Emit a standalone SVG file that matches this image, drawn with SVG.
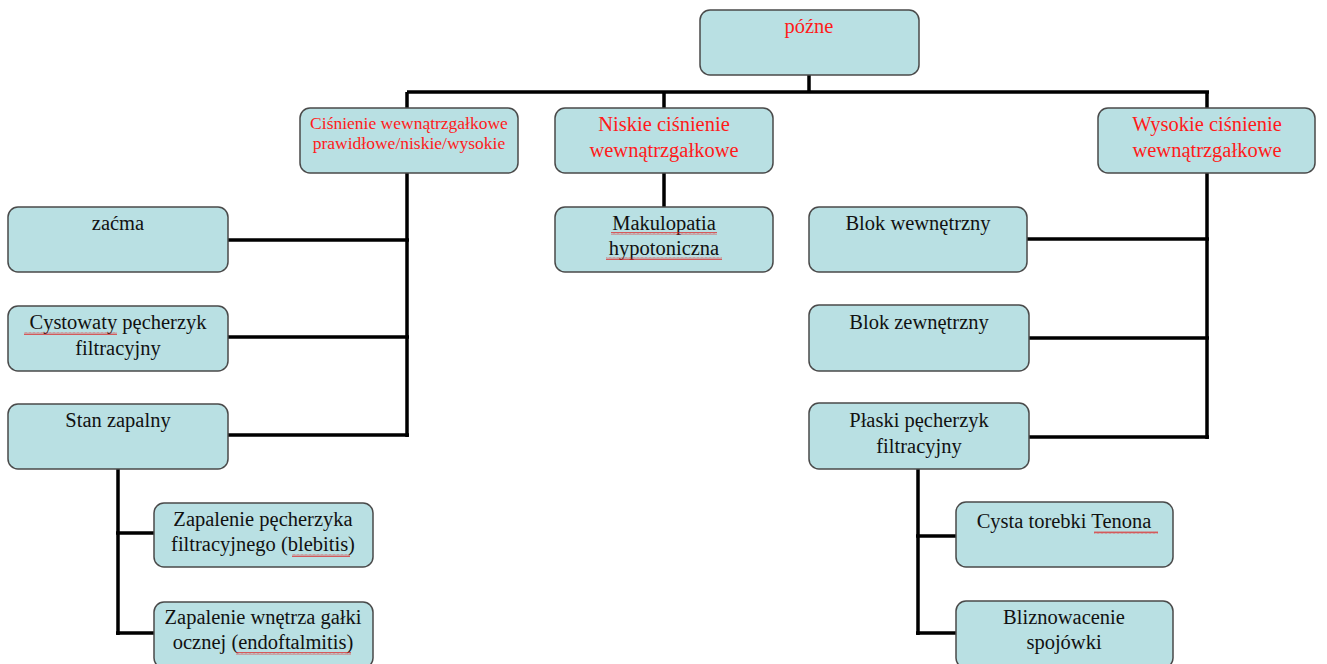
<svg xmlns="http://www.w3.org/2000/svg" width="1327" height="664" viewBox="0 0 1327 664">
<defs>
<pattern id="wave" width="4" height="3" patternUnits="userSpaceOnUse">
<path d="M0 2.5 L1 0.5 L2 2.5 L3 0.5 L4 2.5" fill="none" stroke="#e02020" stroke-width="0.7"/>
</pattern>
</defs>
<style>
.box{fill:#b9e0e3;stroke:#4a4a4a;stroke-width:1.5}
.t{font-family:'Liberation Serif','DejaVu Serif',serif;font-size:20.5px;fill:#111;text-anchor:middle}
.r{fill:#ff1a1a}
.s{font-size:17.5px}
.c{fill:none;stroke:#000;stroke-width:3.5}
.sq{fill:url(#wave)}
</style>
<rect width="1327" height="664" fill="#fff"/>
<g id="connectors">
<path class="c" d="M809 75V92M407 92H1209M407 92V108M664 92V108M1207 92V108"/>
<path class="c" d="M407 173V437M227 240H409M227 337H409M227 435H409"/>
<path class="c" d="M664 173V207"/>
<path class="c" d="M1207 173V439M1027 239H1209M1029 338H1209M1029 437H1209"/>
<path class="c" d="M118 469V635M116 533H154M116 633H154"/>
<path class="c" d="M918 469V635M916 536H956M916 633H956"/>
</g>
<g font-family="Liberation Serif, DejaVu Serif, serif">
<g id="n-pozne"><rect class="box" x="700" y="10" width="219" height="65" rx="10"/><text class="t r" x="809" y="33">późne</text></g>
<g id="n-cisnienie"><rect class="box" x="300" y="108" width="218" height="65" rx="10"/><text class="t r s" x="409" y="129">Ciśnienie wewnątrzgałkowe</text><text class="t r s" x="409" y="149">prawidłowe/niskie/wysokie</text></g>
<g id="n-niskie"><rect class="box" x="555" y="108" width="218" height="65" rx="10"/><text class="t r" x="664" y="131">Niskie ciśnienie</text><text class="t r" x="664" y="157">wewnątrzgałkowe</text></g>
<g id="n-wysokie"><rect class="box" x="1098" y="108" width="217" height="65" rx="10"/><text class="t r" x="1207" y="131">Wysokie ciśnienie</text><text class="t r" x="1207" y="157">wewnątrzgałkowe</text></g>
<g id="n-makulopatia"><rect class="box" x="555" y="207" width="218" height="65" rx="10"/><text class="t" x="664" y="230">Makulopatia</text><text class="t" x="664" y="255">hypotoniczna</text><rect class="sq" x="611" y="232" width="106" height="3"/><rect class="sq" x="606" y="257" width="116" height="3"/></g>
<g id="n-zacma"><rect class="box" x="8" y="207" width="220" height="65" rx="10"/><text class="t" x="118" y="230">zaćma</text></g>
<g id="n-cystowaty"><rect class="box" x="8" y="306" width="220" height="65" rx="10"/><text class="t" x="118" y="329">Cystowaty pęcherzyk</text><text class="t" x="118" y="355">filtracyjny</text><rect class="sq" x="24" y="332" width="93" height="3"/></g>
<g id="n-stan"><rect class="box" x="8" y="404" width="220" height="65" rx="10"/><text class="t" x="118" y="427">Stan zapalny</text></g>
<g id="n-blebitis"><rect class="box" x="154" y="503" width="219" height="64" rx="10"/><text class="t" x="263" y="526">Zapalenie pęcherzyka</text><text class="t" x="263" y="551">filtracyjnego (blebitis)</text><rect class="sq" x="292" y="554" width="58" height="3"/></g>
<g id="n-endo"><rect class="box" x="154" y="602" width="219" height="66" rx="10"/><text class="t" x="263" y="624">Zapalenie wnętrza gałki</text><text class="t" x="263" y="649">ocznej (endoftalmitis)</text><rect class="sq" x="236" y="652" width="115" height="3"/></g>
<g id="n-blokw"><rect class="box" x="809" y="207" width="218" height="65" rx="10"/><text class="t" x="918" y="230">Blok wewnętrzny</text></g>
<g id="n-blokz"><rect class="box" x="809" y="305" width="220" height="66" rx="10"/><text class="t" x="919" y="329">Blok zewnętrzny</text></g>
<g id="n-plaski"><rect class="box" x="809" y="403" width="220" height="66" rx="10"/><text class="t" x="919" y="427">Płaski pęcherzyk</text><text class="t" x="919" y="453">filtracyjny</text></g>
<g id="n-cysta"><rect class="box" x="956" y="502" width="217" height="65" rx="10"/><text class="t" x="1064" y="528">Cysta torebki Tenona</text><rect class="sq" x="1094" y="531" width="64" height="3"/></g>
<g id="n-blizna"><rect class="box" x="956" y="601" width="217" height="67" rx="10"/><text class="t" x="1064" y="624">Bliznowacenie</text><text class="t" x="1064" y="649">spojówki</text></g>
</g>
</svg>
